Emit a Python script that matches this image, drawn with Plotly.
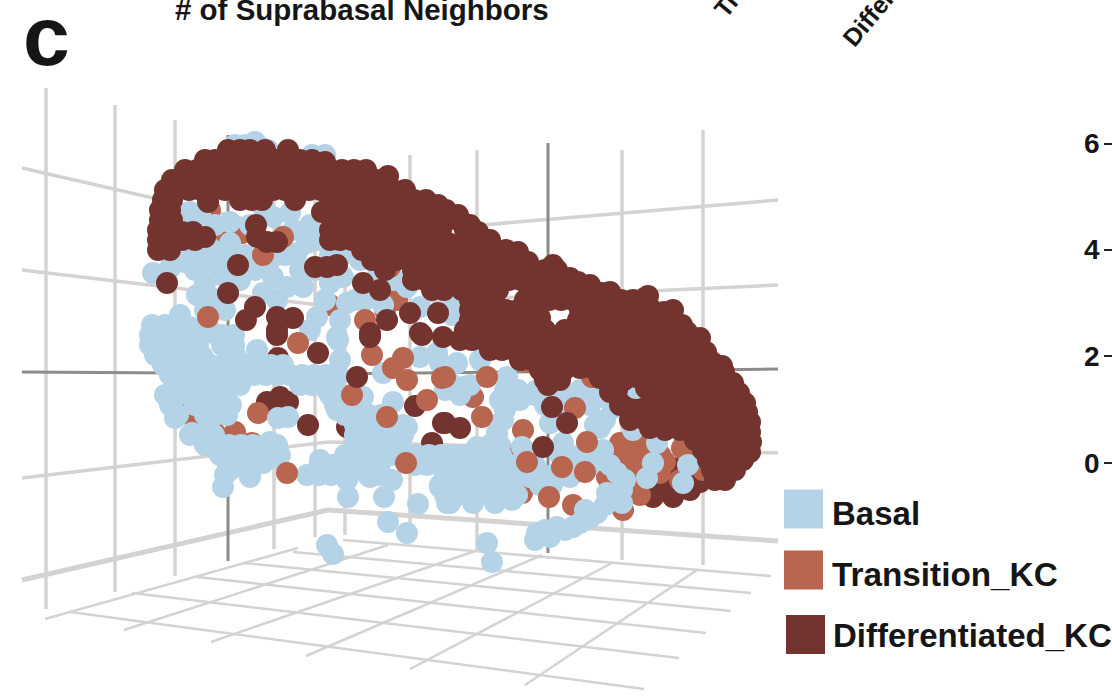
import plotly.graph_objects as go

W, H = 1112, 697

# wall / floor grid of the 3D box: (x0, y0, x1, y1)
wall_verticals = [(46,88,46,609),(115,105,115,592),(175,120,175,576),(274,145,274,549),(315,155,315,537),
                  (345,165,345,535),(410,155,410,540),(477,150,477,550),(622,150,622,560),(703,130,703,565)]
axis_verticals = [(228,135,228,561),(548,143,548,553)]
wall_lines_l = [(22,168,328,238),(22,270,328,306),(22,478,328,442)]
wall_lines_r = [(328,238,778,200),(328,306,778,285),(328,442,778,453)]
axis_lines = [(22,372,328,374),(328,374,778,369)]
floor_edges = [(22,580,328,510),(328,510,778,541)]
floor_grid = [(70,612,644,689),(132,593,679,658),(197,577,706,633),(244,563,731,611),(293,552,751,593),(343,540,771,576),
              (45,619,298,548),(124,630,388,545),(211,642,478,550),(306,656,542,555),(410,669,612,563),(525,685,697,570)]

diff_back = [(267,402),(280,397),(288,402),(347,427),(278,358),(432,443),(415,406),(673,468),(660,482),(690,490),(673,490),(700,482),
             (653,497),(673,497),(640,480),(690,470),(640,408),(625,402),(650,400),(632,410)]
trans_back = [(210,210),(222,233),(242,233),(330,305),(385,310),(397,300),(175,410),(193,417),(215,433),(235,432),(252,443),(258,413),
              (340,470),(473,397),(523,430),(505,453),(522,493),(573,505),(620,443),(643,452),(632,468),(640,495),(660,473),(682,448),
              (703,470),(680,480),(623,510),(607,477),(665,462),(630,485),(615,455),(572,337),(625,452),(635,440),(620,470),(632,456),(650,447),(628,478),(615,490),(660,455),(700,452)]
basal_pts = [(245,145),(235,145),(255,142),(268,150),(262,148),(312,155),(325,155),(153,273),(170,268),(185,262),(195,250),(210,248),(222,257),(205,262),(230,263),(245,255),(230,243),(210,253),(217,260),(205,283),(197,295),(210,297),(180,315),(190,327),(213,333),
             (273,277),(287,287),(303,287),(277,300),(263,293),(297,253),(293,230),(273,217),(263,207),(290,213),(307,243),(330,283),(347,303),(360,260),(347,253),(343,277),(337,337),(317,317),(310,330),(383,305),(407,287),(420,307),(433,267),(407,253),
             (215,225),(190,212),(200,215),(230,222),(250,225),(310,225),(320,240),(285,255),(270,260),(255,270),(240,280),(220,275),(195,270),(315,270),(300,270),(330,255),(355,300),(340,320),(325,300),(225,310),(205,310),(440,290),(455,300),(452,315),(395,280),(378,275),(365,300),
             (257,350),(338,340),(340,360),(327,390),(337,410),(363,397),(353,413),(278,418),(288,417),(175,418),(192,433),(210,443),(220,452),(237,452),(230,470),(223,487),(250,477),(270,442),(277,458),(263,463),(320,460),(307,475),(330,470),(347,480),(348,497),(353,457),(370,477),(367,433),(393,402),(383,373),(407,427),(383,440),(370,443),(392,480),(384,497),(418,504),(388,522),(407,533),(327,545),(333,554),(427,460),(440,487),(447,503),(450,463),(437,353),(420,357),(370,457),(357,443),(397,450),(363,420),
             (450,503),(450,470),(473,467),(473,503),(495,503),(512,500),(493,480),(460,460),(477,447),(497,433),(503,420),(500,400),(507,377),(518,390),(537,390),(557,397),(580,390),(600,397),(613,408),(550,423),(563,443),(583,453),(603,450),(530,477),(550,477),(570,477),(507,473),(523,473),(607,493),(622,503),(597,513),(580,523),(557,527),(537,533),(535,540),(550,537),(573,527),(617,473),(622,490),(487,543),(492,562),(450,383),(463,387),(480,360),(457,363),(440,363),(453,307),(600,383),(633,430),(657,443),(653,463),(688,465),(647,478),(683,483),(600,428),(522,447),(636,388),
             (152,325),(165,325),(180,328),(150,335),(162,335),(174,335),(186,335),(198,335),(222,335),(234,335),(150,345),(162,345),(174,345),(186,345),(198,345),(222,345),(234,345),(155,355),(167,355),(179,355),(191,355),(203,357),(235,355),
             (163,365),(175,365),(187,365),(199,365),(211,365),(223,365),(235,365),(247,365),(259,365),(271,365),(283,365),(170,375),(182,375),(194,375),(206,375),(218,375),(230,375),(242,375),(254,375),(266,375),(278,375),(290,375),(302,375),(314,375),(326,375),(338,375),
             (180,385),(192,385),(204,385),(216,385),(228,385),(240,385),(300,385),(312,385),(324,385),(165,395),(177,395),(189,395),(201,395),(213,395),(225,395),(330,395),(342,395),(170,405),(195,405),(207,405),(219,405),(231,405),(335,405),(347,405),(359,405),
             (178,415),(205,415),(215,415),(227,415),(345,415),(357,415),(369,415),(381,415),(355,425),(367,425),(379,425),(391,425),(403,425),(190,435),(202,435),(214,435),(355,435),(367,435),(379,435),(391,435),(403,435),
             (205,445),(217,445),(229,445),(241,445),(253,445),(265,445),(277,445),(355,445),(367,445),(379,445),(391,445),(220,455),(232,455),(244,455),(256,455),(268,455),(280,455),(345,455),(357,455),(369,455),(381,455),(393,455),(405,455),(417,455),(429,455),(441,455),(453,455),(465,455),(477,455),(489,455),(501,455),
             (228,465),(240,465),(252,465),(320,465),(332,465),(344,465),(356,465),(368,465),(380,465),(415,465),(427,465),(439,465),(451,465),(463,465),(475,465),(487,465),(499,465),(511,465),(523,465),(535,465),(225,475),(250,475),(319,475),(331,475),(343,475),(368,475),(380,475),(445,475),(457,475),(469,475),(481,475),(493,475),(505,475),(517,475),(529,475),(541,475),(553,475),
             (440,485),(452,485),(464,485),(476,485),(488,485),(500,485),(512,485),(540,485),(552,485),(445,495),(457,495),(469,495),(481,495),(493,495),(505,495),(517,495),(625,480),(615,500),(605,505),(590,518),(565,530),(545,530),(585,510),
             (445,390),(460,395),(470,385),(505,390),(520,400),(535,395),(560,390),(575,398),(590,405),(610,395),(505,410),(515,400),(545,405),(560,410),(595,425),(605,420),(500,445),(490,445),(475,455),(560,455),(575,460),(590,465),(600,460),(610,465)]
trans_front = [(208,317),(283,237),(263,255),(365,320),(390,267),(298,343),(372,355),(393,368),(403,358),(407,380),(442,378),(427,400),
               (352,395),(387,417),(406,463),(287,473),(445,377),(487,377),(482,417),(528,362),(592,377),(575,408),(587,442),(527,462),(562,467),(585,472),(549,497)]
diff_front = [(205,160),(215,160),(228,150),(240,150),(250,150),(265,150),(288,150),(228,160),(240,160),(252,160),(264,160),(276,160),(288,160),(300,160),(312,160),(325,162),
              (185,170),(197,170),(210,170),(222,170),(234,170),(246,170),(258,170),(270,170),(282,170),(294,170),(306,170),(318,170),(330,170),(342,170),(354,170),(366,170),
              (172,180),(184,180),(196,180),(208,180),(220,180),(232,180),(244,180),(256,180),(268,180),(280,180),(292,180),(304,180),(316,180),(328,180),(340,180),(352,180),(364,180),(376,180),(388,176),
              (165,190),(177,190),(189,190),(201,190),(213,190),(225,190),(237,190),(249,190),(261,190),(273,190),(285,190),(297,190),(309,190),(321,190),(333,190),(345,190),(357,190),(369,190),(381,190),(393,190),(405,190),
              (163,200),(172,200),(208,202),(240,200),(252,200),(262,200),(295,200),(330,200),(342,200),(354,200),(366,200),(378,200),(390,200),(402,200),(414,200),(426,200),(438,205),
              (160,210),(170,210),(322,212),(350,210),(362,210),(374,210),(386,210),(398,210),(410,210),(422,210),(434,210),(446,210),(458,215),
              (160,220),(172,220),(335,220),(350,220),(362,220),(374,220),(386,220),(398,220),(410,220),(422,220),(434,220),(446,220),(458,220),(470,225),
              (158,230),(170,230),(182,232),(193,232),(330,230),(345,230),(357,230),(369,230),(381,230),(393,230),(405,230),(417,230),(429,230),(441,230),(465,230),(478,232),
              (158,240),(170,240),(182,240),(195,240),(205,237),(330,240),(340,240),(352,240),(364,240),(376,240),(388,240),(400,240),(412,240),(424,240),(436,240),(448,243),(466,240),(478,240),(490,240),
              (158,250),(170,250),(362,250),(374,250),(386,250),(398,250),(410,250),(422,250),(434,250),(446,250),(458,250),(470,250),(482,250),(494,250),(506,250),(518,252),
              (372,260),(384,260),(396,260),(408,260),(420,260),(432,260),(444,260),(456,260),(468,260),(480,260),(492,260),(504,260),(516,260),(528,262),
              (385,270),(413,270),(425,270),(437,270),(449,270),(461,270),(473,270),(485,270),(497,270),(509,270),(521,270),(533,270),(545,270),(557,270),
              (413,280),(425,280),(437,280),(449,280),(461,280),(473,280),(485,280),(497,280),(509,280),(521,280),(533,280),(545,280),(557,280),(569,280),(578,282),
              (432,290),(444,290),(462,290),(474,290),(486,290),(498,290),(530,290),(542,290),(554,290),(566,290),(578,290),(590,290),(602,293),
              (470,300),(482,300),(494,300),(525,300),(537,300),(549,300),(561,300),(573,300),(585,300),(597,300),(609,300),(621,300),(633,300),(645,298),
              (470,310),(482,310),(494,310),(506,310),(518,310),(530,310),(580,310),(592,310),(604,310),(616,310),(628,310),(640,310),(652,310),(664,312),
              (470,320),(482,320),(494,320),(506,320),(518,320),(530,320),(578,320),(600,320),(612,320),(624,320),(636,320),(648,320),(660,320),(672,320),(682,325),
              (465,330),(477,330),(489,330),(501,330),(513,330),(525,330),(537,330),(565,330),(615,330),(627,330),(639,330),(651,330),(663,330),(675,330),(687,332),
              (460,340),(472,340),(484,340),(496,340),(508,340),(520,340),(532,340),(544,340),(625,340),(637,340),(649,340),(661,340),(673,340),(685,340),(697,340),
              (490,350),(502,350),(514,350),(526,350),(538,350),(550,350),(562,350),(574,350),(586,350),(598,350),(610,350),(622,350),(634,350),(646,350),(658,350),(670,350),(682,350),(694,350),(706,352),
              (520,360),(532,360),(544,360),(556,360),(568,360),(580,360),(592,360),(604,360),(616,360),(628,360),(640,360),(652,360),(664,360),(676,360),(688,360),(700,360),(712,362),
              (540,370),(552,370),(564,370),(604,370),(616,370),(628,370),(640,370),(652,370),(664,370),(676,370),(688,370),(700,370),(712,370),(724,372),
              (545,380),(560,380),(612,380),(624,380),(650,380),(662,380),(674,380),(686,380),(698,380),(710,380),(722,380),(733,383),
              (617,390),(655,390),(667,390),(679,390),(691,390),(703,390),(715,390),(727,390),(739,393),
              (667,400),(679,400),(691,400),(703,400),(715,400),(727,400),(739,400),(745,403),
              (652,410),(664,410),(676,410),(688,410),(700,410),(712,410),(724,410),(736,410),(747,412),
              (630,420),(645,420),(660,420),(672,420),(684,420),(696,420),(708,420),(720,420),(732,420),(744,420),(750,422),
              (650,428),(665,430),(680,430),(692,430),(704,430),(716,430),(728,430),(740,430),(750,432),(695,440),(707,440),(719,440),(731,440),(743,440),(751,442),
              (703,450),(715,450),(727,450),(739,450),(750,452),(708,460),(720,460),(732,460),(743,460),(712,470),(724,470),(735,470),(715,480),(725,480),
              (167,283),(228,293),(238,265),(315,267),(327,267),(337,265),(256,225),(257,237),(267,242),(277,242),
              (246,320),(255,307),(277,317),(293,318),(277,330),(363,283),(380,290),(410,313),(420,333),(370,333),(387,320),(438,313),
              (543,447),(552,407),(567,423),(460,428),(445,423),(308,425),(443,423),(357,377),(318,353),(370,337),(277,335),(422,335),(443,337),(535,340),(548,385),
              (540,318),(575,340),(590,335),(600,340),(585,345),(570,345),(555,340),(545,330),(600,330),(590,322),(636,377),(580,368),(592,368),(600,378),(610,392),(620,405),(640,330),(553,265),(590,285),(610,292),(570,278),(648,296),(673,310),(700,338),(722,366),(638,412),(655,398),(646,388)]
legend_labels = ["Basal","Transition_KC","Differentiated_KC"]
tick_labels = ["6","4","2","0"]
tick_rows = [144,250,356,463]

BLUE, RED, DARK = "#b5d3e7", "#b8664f", "#733430"
GRID, AXIS = "#d5d3d1", "#8c8b89"

fig = go.Figure()

def lines(segs, color, width):
    xs, ys = [], []
    for a, b, c, d in segs:
        xs += [a, c, None]
        ys += [b, d, None]
    fig.add_trace(go.Scatter(x=xs, y=ys, mode="lines", line=dict(color=color, width=width), hoverinfo="skip"))

def pts(x, y, color, size=22, symbol="circle"):
    fig.add_trace(go.Scatter(x=x, y=y, mode="markers", hoverinfo="skip",
                             marker=dict(color=color, size=size, symbol=symbol, line=dict(width=0))))

def xy(p):
    return [a for a, _ in p], [b for _, b in p]

lines(floor_grid, GRID, 2.5)
lines(wall_lines_l + wall_lines_r, GRID, 3.5)
lines(wall_verticals, GRID, 3.5)
lines(floor_edges, GRID, 5)
lines(axis_lines, AXIS, 3)
lines(axis_verticals, AXIS, 3)

pts(*xy(diff_back), DARK)
pts(*xy(trans_back), RED)
pts(*xy(basal_pts), BLUE)
pts(*xy(trans_front), RED)
pts(*xy(diff_front), DARK)

pts([803.5], [509], BLUE, 39, "square")
pts([803.5], [570], RED, 39, "square")
pts([805.5], [634.5], DARK, 39, "square")

lines([(1104,r,1112,r) for r in tick_rows], "#222222", 2)

def note(text, x, y, size, angle=0, xanchor="left", color="#161616"):
    fig.add_annotation(text=f"<b>{text}</b>", xref="paper", yref="paper", x=x/W, y=1-y/H, showarrow=False,
                       xanchor=xanchor, yanchor="middle", textangle=angle,
                       font=dict(family="Liberation Sans", size=size, color=color))

note("c", 21, 36, 84)
note("# of Suprabasal Neighbors", 173, 9, 29.5)
note(legend_labels[0], 830, 513, 33)
note(legend_labels[1], 830, 574, 33.3)
note(legend_labels[2], 831, 635, 33)
note("Transition_KC", 773, -51, 25, -50, "center")
note("Differentiated_KC", 915, -38, 25, -50, "center")
for t, r in zip(tick_labels, tick_rows):
    note(t, 1102, r, 28, 0, "right")

fig.update_layout(width=W, height=H, autosize=False, margin=dict(l=0, r=0, t=0, b=0), showlegend=False,
                  paper_bgcolor="white", plot_bgcolor="white",
                  xaxis=dict(range=[0, W], visible=False, fixedrange=True),
                  yaxis=dict(range=[H, 0], visible=False, fixedrange=True))
fig.write_html("out.html", config={"displayModeBar": False},
               post_script="document.body.style.margin='0';document.documentElement.style.overflow='hidden';")
